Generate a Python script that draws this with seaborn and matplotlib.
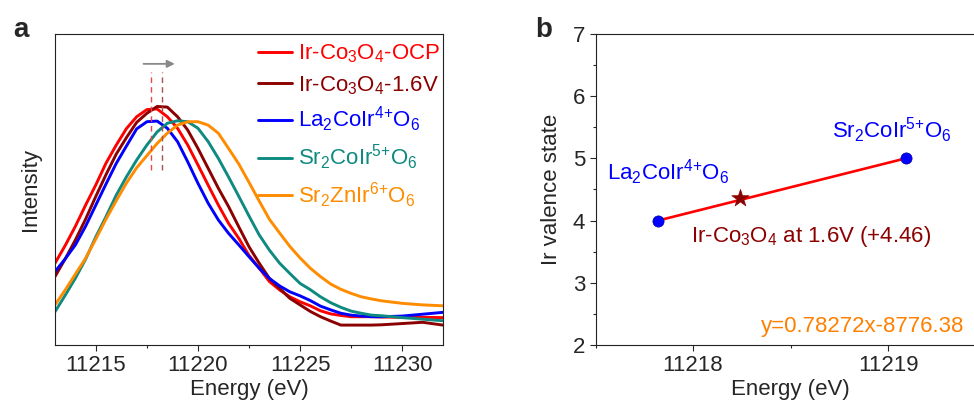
import numpy as np
import pandas as pd
import matplotlib
matplotlib.use("Agg")
import matplotlib.pyplot as plt
import seaborn as sns
from matplotlib.ticker import MultipleLocator

sns.set_style("ticks")
plt.rcParams["font.family"] = ["Liberation Sans", "DejaVu Sans"]
plt.rcParams["mathtext.fontset"] = "custom"
plt.rcParams["mathtext.rm"] = "Liberation Sans"
plt.rcParams["mathtext.it"] = "Liberation Sans:italic"
plt.rcParams["mathtext.bf"] = "Liberation Sans:bold"
plt.rcParams["axes.edgecolor"] = "#222222"

# ---------------- data: panel a ----------------
energy = [11213, 11213.5, 11214, 11214.5, 11215, 11215.5, 11216, 11216.5, 11217, 11217.5,
          11218, 11218.5, 11219, 11219.5, 11220, 11220.5, 11221, 11221.5, 11222, 11222.5,
          11223, 11223.5, 11224, 11224.5, 11225, 11225.5, 11226, 11226.5, 11227, 11227.5,
          11228, 11228.5, 11229, 11230, 11231, 11232]
ocp = [0.263, 0.320, 0.382, 0.450, 0.515, 0.585, 0.643, 0.696, 0.734, 0.757,
       0.759, 0.734, 0.697, 0.643, 0.579, 0.514, 0.450, 0.391, 0.343, 0.288,
       0.247, 0.204, 0.177, 0.155, 0.139, 0.126, 0.110, 0.100, 0.095, 0.091,
       0.091, 0.091, 0.090, 0.089, 0.089, 0.088]
v16 = [0.220, 0.277, 0.338, 0.405, 0.478, 0.548, 0.614, 0.667, 0.716, 0.745,
       0.767, 0.765, 0.734, 0.691, 0.632, 0.568, 0.504, 0.445, 0.380, 0.316,
       0.263, 0.214, 0.182, 0.150, 0.129, 0.108, 0.091, 0.077, 0.064, 0.064,
       0.064, 0.064, 0.065, 0.069, 0.073, 0.064]
la_ir4 = [0.236, 0.277, 0.322, 0.382, 0.450, 0.518, 0.584, 0.640, 0.695, 0.718,
          0.720, 0.697, 0.654, 0.589, 0.520, 0.456, 0.402, 0.359, 0.322, 0.284,
          0.247, 0.214, 0.190, 0.171, 0.158, 0.143, 0.125, 0.113, 0.102, 0.096,
          0.093, 0.091, 0.091, 0.093, 0.099, 0.105]
sr_ir5 = [0.107, 0.160, 0.215, 0.276, 0.348, 0.413, 0.482, 0.541, 0.595, 0.643,
          0.685, 0.713, 0.721, 0.718, 0.697, 0.654, 0.600, 0.540, 0.478, 0.415,
          0.354, 0.305, 0.263, 0.230, 0.198, 0.178, 0.155, 0.136, 0.121, 0.109,
          0.102, 0.096, 0.094, 0.088, 0.083, 0.078]
zn_ir6 = [0.129, 0.177, 0.228, 0.279, 0.341, 0.405, 0.464, 0.521, 0.570, 0.609,
          0.648, 0.681, 0.707, 0.718, 0.718, 0.707, 0.681, 0.632, 0.582, 0.523,
          0.463, 0.404, 0.360, 0.317, 0.280, 0.247, 0.220, 0.196, 0.179, 0.166,
          0.155, 0.148, 0.142, 0.134, 0.129, 0.126]
sample_labels = ["Ir-Co$_3$O$_4$-OCP", "Ir-Co$_3$O$_4$-1.6V", "La$_2$CoIr$^{4{+}}$O$_6$",
                 "Sr$_2$CoIr$^{5{+}}$O$_6$", "Sr$_2$ZnIr$^{6{+}}$O$_6$"]
sample_colors = ["#FF0000", "#8B0000", "#0000FF", "#0E8A80", "#FF8C00"]
peak_positions = [11217.72, 11218.22]
shift_arrow = [11217.2, 11219.0]

# ---------------- data: panel b ----------------
ref_energy = [11217.82, 11219.09]
ref_valence = [4, 5]
ref_names = ["La$_2$CoIr$^{4{+}}$O$_6$", "Sr$_2$CoIr$^{5{+}}$O$_6$"]
sample_energy = [11218.24]
sample_valence = [4.36]
sample_name = "Ir-Co$_3$O$_4$ at 1.6V (+4.46)"
fit_text = "y=0.78272x-8776.38"

FS = 16
LW = 2.1
fig = plt.figure(figsize=(9.74, 4.05), dpi=100)
ax1 = fig.add_axes([55 / 974, 60 / 405, 388 / 974, 311 / 405])
ax2 = fig.add_axes([595.5 / 974, 60 / 405, 390 / 974, 311 / 405])

# ---------- panel a ----------
series = [ocp, v16, la_ir4, sr_ir5, zn_ir6]
df_a = pd.DataFrame({
    "Energy": np.tile(energy, len(series)),
    "Intensity": np.concatenate(series),
    "Sample": np.repeat(sample_labels, len(energy)),
})
sns.lineplot(data=df_a, x="Energy", y="Intensity", hue="Sample", hue_order=sample_labels,
             palette=dict(zip(sample_labels, sample_colors)), estimator=None, sort=True,
             lw=LW, ax=ax1, legend=True)
handles, labels = ax1.get_legend_handles_labels()
leg = ax1.legend(handles, labels, loc="upper right", bbox_to_anchor=(1.015, 1.0),
                 frameon=False, fontsize=FS, handlelength=1.55, handletextpad=0.25,
                 labelspacing=0.38, borderaxespad=0.2, borderpad=0.2)
for txt, col in zip(leg.get_texts(), sample_colors):
    txt.set_color(col)
for h in leg.legend_handles:
    h.set_linewidth(LW)

ax1.vlines(peak_positions, 0.563, 0.877, colors=["#E84848", "#A85050"],
           linestyles=(0, (4, 3)), lw=1.0)
ax1.annotate("", xy=(shift_arrow[1], 0.904), xytext=(shift_arrow[0], 0.904),
             arrowprops=dict(arrowstyle="-|>", color="#888888", lw=1.3, mutation_scale=11))

ax1.set_xlim(11213, 11232)
ax1.set_ylim(0, 1)
ax1.set_yticks([])
ax1.xaxis.set_major_locator(MultipleLocator(5))
ax1.xaxis.set_minor_locator(MultipleLocator(2.5))
ax1.tick_params(axis="x", which="major", direction="out", length=4, width=0.8, labelsize=FS)
ax1.tick_params(axis="x", which="minor", direction="out", length=2.5, width=0.8)
ax1.set_xlabel("Energy (eV)", fontsize=FS, labelpad=2)
ax1.set_ylabel("Intensity", fontsize=FS, labelpad=10)
for s in ax1.spines.values():
    s.set_linewidth(0.8)
ax1.xaxis.get_major_formatter().set_useOffset(False)

# ---------- panel b ----------
sns.lineplot(x=ref_energy, y=ref_valence, color="#FF0000", lw=1.9, ax=ax2, zorder=2)
sns.scatterplot(x=ref_energy, y=ref_valence, color="#0000FF", s=65, edgecolor="#0000AA",
                linewidth=0.5, ax=ax2, zorder=3)
sns.scatterplot(x=sample_energy, y=sample_valence, marker="*", color="#8B0000", s=170,
                edgecolor="#8B0000", linewidth=0.5, ax=ax2, zorder=4)

ax2.text(11217.56, 4.653, ref_names[0], color="#0000FF", fontsize=FS, ha="left", va="baseline")
ax2.text(11218.715, 5.323, ref_names[1], color="#0000FF", fontsize=FS, ha="left", va="baseline")
ax2.text(11217.99, 3.661, sample_name, color="#8B0000", fontsize=FS, ha="left", va="baseline")
ax2.text(11219.393, 2.214, fit_text, color="#FF8000", fontsize=FS, ha="right", va="baseline")

ax2.set_xlim(11217.5, 11219.5)
ax2.set_ylim(2, 7)
ax2.xaxis.set_major_locator(MultipleLocator(1))
ax2.xaxis.set_minor_locator(MultipleLocator(0.5))
ax2.yaxis.set_major_locator(MultipleLocator(1))
ax2.yaxis.set_minor_locator(MultipleLocator(0.5))
ax2.tick_params(which="major", direction="out", length=4, width=0.8, labelsize=FS)
ax2.tick_params(which="minor", direction="out", length=2.5, width=0.8)
ax2.xaxis.get_major_formatter().set_useOffset(False)
ax2.set_xlabel("Energy (eV)", fontsize=FS, labelpad=2)
ax2.set_ylabel("Ir valence state", fontsize=FS, labelpad=8)
for s in ax2.spines.values():
    s.set_linewidth(0.8)

fig.text(13 / 974, 1 - 37 / 405, "a", fontsize=20, fontweight="bold", va="baseline")
fig.text(535 / 974, 1 - 37 / 405, "b", fontsize=20, fontweight="bold", va="baseline")

fig.savefig("out.png", dpi=100)
